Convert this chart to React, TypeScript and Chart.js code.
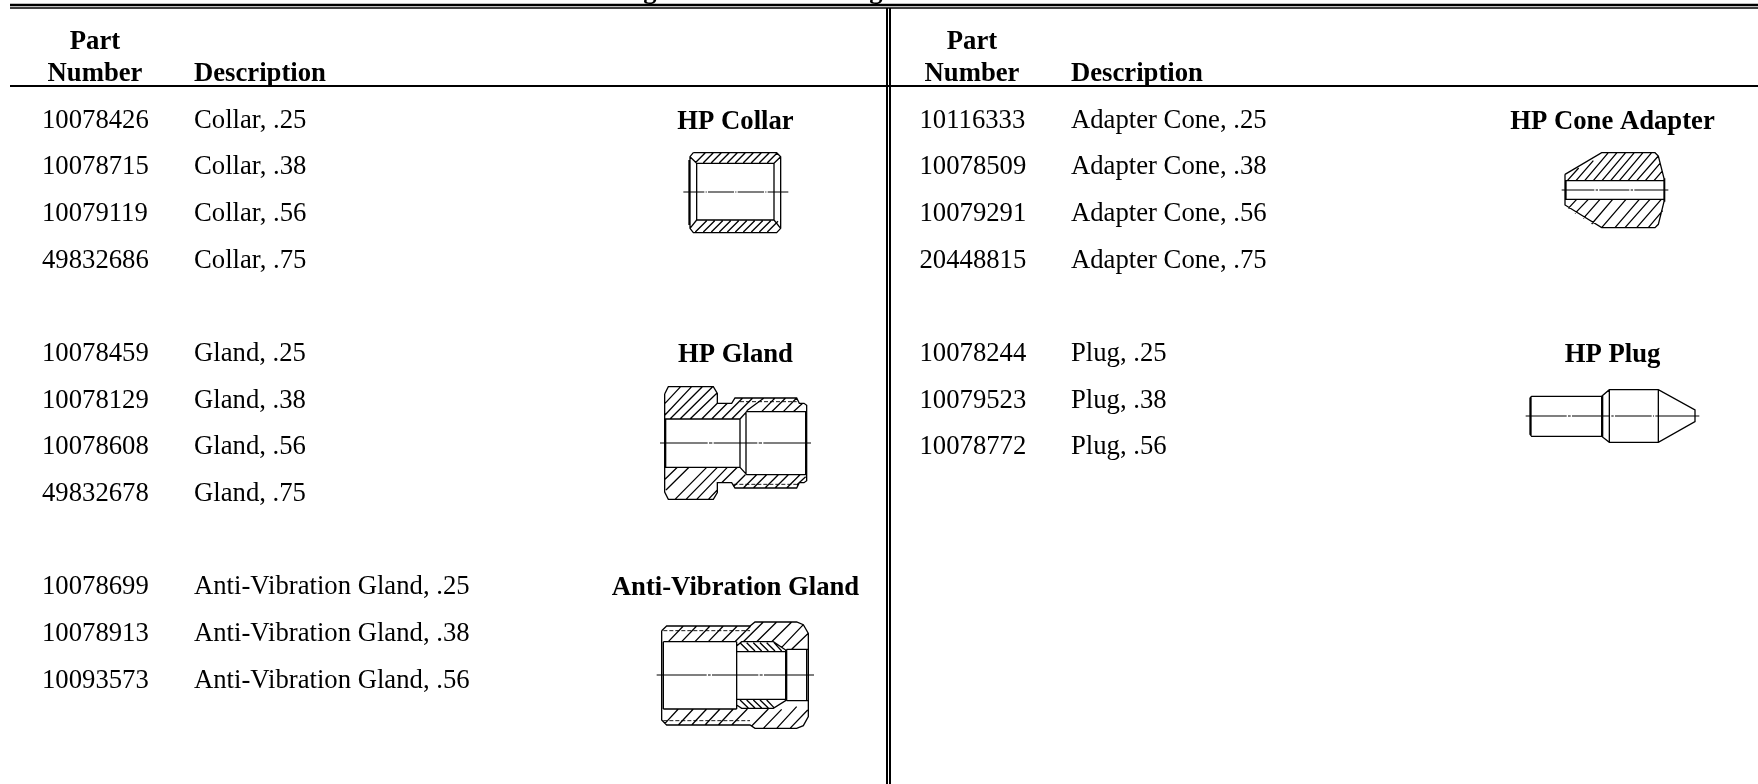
import React, { useEffect, useRef } from "react";
import { Chart, registerables } from "chart.js";
Chart.register(...registerables);

type P = [number, number];
type Drawing = { origin: P; lines: P[][]; centre: P[][]; dashed: P[][] };

const partNumbersLeft = ["10078426", "10078715", "10079119", "49832686", "10078459", "10078129", "10078608", "49832678", "10078699", "10078913", "10093573"];
const descriptionsLeft = ["Collar, .25", "Collar, .38", "Collar, .56", "Collar, .75", "Gland, .25", "Gland, .38", "Gland, .56", "Gland, .75", "Anti-Vibration Gland, .25", "Anti-Vibration Gland, .38", "Anti-Vibration Gland, .56"];
const rowYLeft = [127.7, 174.4, 221, 267.7, 361, 407.7, 454.4, 501, 594.4, 641, 687.7];
const partNumbersRight = ["10116333", "10078509", "10079291", "20448815", "10078244", "10079523", "10078772"];
const descriptionsRight = ["Adapter Cone, .25", "Adapter Cone, .38", "Adapter Cone, .56", "Adapter Cone, .75", "Plug, .25", "Plug, .38", "Plug, .56"];
const rowYRight = [127.7, 174.4, 221, 267.7, 361, 407.7, 454.4];
const groupTitles: [string, number, number][] = [
  ["HP Collar", 735.5, 128.7], ["HP Gland", 735.5, 362], ["Anti-Vibration Gland", 735.5, 595.4],
  ["HP Cone Adapter", 1612.5, 128.7], ["HP Plug", 1612.5, 362],
];
const headers: [string, number, number][] = [
  ["Part", 95, 49], ["Number", 95, 80.7], ["Part", 972, 49], ["Number", 972, 80.7],
];
const headerDescriptions: [string, number, number][] = [
  ["Description", 194, 80.7], ["Description", 1071, 80.7],
];
const clippedTitleLetters: [string, number, number][] = [["g", 650, -2], ["g", 876, -2]];
const rules: [P, P, number][] = [
  [[10, 5], [1758, 5], 2.5], [[10, 8], [1758, 8], 1.5],
  [[10, 86], [1758, 86], 2],
  [[887, 8], [887, 784], 2], [[890, 8], [890, 784], 2],
];

const collar: Drawing = {
  origin: [650, 130],
  lines: [
    [[130, 68], [380, 68], [392, 80], [392, 295], [380, 308], [130, 308], [120, 295], [120, 80], [130, 68]],
    [[140, 100], [372, 100], [372, 270], [140, 270], [140, 100]],
    [[120, 80], [140, 100]], [[392, 80], [372, 100]], [[120, 295], [140, 270]], [[392, 295], [372, 270]],
    [[117, 90], [117, 285]],
    [[136, 98], [166, 68]], [[160, 98], [190, 68]], [[184, 98], [214, 68]], [[208, 98], [238, 68]], [[232, 98], [262, 68]], [[256, 98], [286, 68]], [[280, 98], [310, 68]], [[304, 98], [334, 68]], [[328, 98], [358, 68]], [[352, 98], [382, 68]],
    [[136, 306], [170, 272]], [[160, 306], [194, 272]], [[184, 306], [218, 272]], [[208, 306], [242, 272]], [[232, 306], [266, 272]], [[256, 306], [290, 272]], [[280, 306], [314, 272]], [[304, 306], [338, 272]], [[328, 306], [362, 272]], [[352, 306], [384, 274]],
  ],
  centre: [[[100, 186], [163, 186]], [[167, 186], [170, 186]], [[174, 186], [252, 186]], [[256, 186], [259, 186]], [[263, 186], [342, 186]], [[346, 186], [349, 186]], [[353, 186], [415, 186]]],
  dashed: [],
};

const gland: Drawing = {
  origin: [640, 370],
  lines: [
    [[74, 72], [85, 50], [220, 50], [232, 70], [232, 100], [275, 100], [285, 84], [470, 84], [478, 100], [492, 100], [500, 106], [500, 332], [492, 338], [478, 338], [470, 354], [285, 354], [275, 338], [232, 338], [232, 368], [220, 388], [85, 388], [74, 366], [74, 72]],
    [[74, 147], [300, 147], [320, 125], [500, 125]],
    [[74, 292], [300, 292], [320, 314], [500, 314]],
    [[300, 147], [300, 292]], [[318, 125], [318, 314]], [[77, 147], [77, 292]], [[497, 125], [497, 314]],
    [[75, 100], [122, 50]], [[75, 135], [155, 50]], [[90, 147], [187, 50]], [[120, 147], [218, 50]], [[150, 147], [232, 68]], [[185, 147], [232, 100]], [[215, 147], [262, 100]], [[245, 147], [308, 84]], [[275, 147], [338, 84]], [[320, 122], [372, 84]], [[365, 125], [405, 84]], [[395, 125], [437, 84]], [[430, 125], [470, 84]], [[460, 125], [488, 100]],
    [[75, 328], [112, 292]], [[78, 360], [147, 292]], [[105, 388], [200, 292]], [[138, 388], [232, 292]], [[170, 388], [262, 292]], [[205, 388], [232, 360]], [[245, 338], [292, 292]], [[280, 350], [316, 314]], [[310, 354], [350, 314]], [[340, 354], [380, 314]], [[375, 354], [415, 314]], [[405, 354], [445, 314]], [[440, 354], [480, 314]], [[470, 345], [497, 320]],
  ],
  centre: [[[60, 219], [203, 219]], [[207, 219], [217, 219]], [[221, 219], [352, 219]], [[356, 219], [366, 219]], [[370, 219], [513, 219]]],
  dashed: [[[300, 95], [470, 95]], [[280, 343], [470, 343]]],
};

const antiVibrationGland: Drawing = {
  origin: [640, 610],
  lines: [
    [[65, 62], [80, 48], [330, 48], [345, 36], [470, 36], [490, 44], [505, 70], [505, 320], [490, 347], [470, 355], [345, 355], [330, 345], [80, 345], [65, 330], [65, 62]],
    [[70, 95], [290, 95]], [[70, 297], [290, 297]], [[70, 95], [70, 297]], [[290, 95], [290, 297]],
    [[290, 108], [305, 95], [400, 95], [437, 120], [437, 272], [400, 295], [305, 295], [290, 285]],
    [[290, 125], [437, 125]], [[290, 268], [437, 268]],
    [[440, 118], [505, 118]], [[440, 272], [505, 272]], [[440, 118], [440, 272]], [[500, 118], [500, 272]],
    [[85, 95], [130, 48]], [[125, 95], [170, 48]], [[165, 95], [210, 48]], [[205, 95], [250, 48]], [[245, 95], [292, 48]], [[285, 95], [332, 48]], [[310, 95], [370, 36]], [[350, 95], [410, 36]], [[395, 95], [455, 36]], [[425, 112], [490, 44]], [[455, 118], [505, 70]],
    [[300, 98], [325, 123]], [[320, 98], [345, 123]], [[340, 98], [365, 123]], [[360, 98], [385, 123]], [[380, 98], [405, 123]], [[402, 98], [425, 123]],
    [[300, 270], [325, 294]], [[320, 270], [345, 294]], [[340, 270], [365, 294]], [[360, 270], [385, 294]], [[380, 270], [402, 293]],
    [[75, 340], [115, 297]], [[115, 345], [160, 297]], [[155, 345], [200, 297]], [[195, 345], [240, 297]], [[235, 345], [280, 297]], [[275, 345], [322, 297]], [[335, 348], [385, 297]], [[370, 355], [425, 298]], [[410, 355], [470, 290]], [[450, 355], [503, 300]],
  ],
  centre: [[[50, 195], [200, 195]], [[204, 195], [212, 195]], [[216, 195], [355, 195]], [[359, 195], [368, 195]], [[372, 195], [522, 195]]],
  dashed: [[[70, 62], [330, 62]], [[70, 332], [330, 332]]],
};

const coneAdapter: Drawing = {
  origin: [1540, 140],
  lines: [
    [[75, 103], [185, 38], [345, 38], [355, 48], [372, 115], [372, 185], [355, 253], [345, 263], [185, 263], [75, 195], [75, 103]],
    [[75, 122], [375, 122]], [[75, 178], [375, 178]], [[78, 122], [78, 178]], [[374, 115], [374, 185]],
    [[82, 122], [116, 84]], [[108, 122], [160, 62]], [[134, 122], [205, 38]], [[160, 122], [231, 38]], [[186, 122], [257, 38]], [[212, 122], [283, 38]], [[238, 122], [309, 38]], [[264, 122], [335, 38]], [[290, 122], [355, 48]], [[316, 122], [360, 70]], [[342, 122], [368, 92]],
    [[85, 205], [110, 178]], [[105, 220], [145, 178]], [[130, 235], [180, 178]], [[155, 252], [218, 178]], [[185, 263], [258, 178]], [[225, 263], [298, 178]], [[255, 263], [330, 178]], [[290, 263], [364, 178]], [[325, 263], [368, 212]],
  ],
  centre: [[[65, 150], [163, 150]], [[167, 150], [174, 150]], [[178, 150], [268, 150]], [[272, 150], [279, 150]], [[283, 150], [385, 150]]],
  dashed: [],
};

const plug: Drawing = {
  origin: [1510, 375],
  lines: [
    [[60, 68], [65, 64], [275, 64], [298, 44], [445, 44], [555, 105], [555, 140], [445, 202], [298, 202], [275, 184], [65, 184], [60, 178], [60, 68]],
    [[275, 64], [275, 184]], [[298, 44], [298, 202]], [[445, 44], [445, 202]], [[278, 62], [278, 186]], [[63, 66], [63, 182]],
  ],
  centre: [[[47, 123], [170, 123]], [[174, 123], [182, 123]], [[186, 123], [300, 123]], [[304, 123], [311, 123]], [[315, 123], [425, 123]], [[429, 123], [432, 123]], [[436, 123], [568, 123]]],
  dashed: [],
};

const drawings = [collar, gland, antiVibrationGland, coneAdapter, plug];

function toData(d: Drawing, segs: P[][]) {
  const out: ({ x: number; y: number } | { x: number; y: null })[] = [];
  for (const s of segs) {
    for (const [x, y] of s) out.push({ x: d.origin[0] + x / 3, y: d.origin[1] + y / 3 });
    out.push({ x: d.origin[0], y: null });
  }
  return out;
}

export default function App() {
  const ref = useRef<HTMLCanvasElement>(null);
  useEffect(() => {
    document.body.style.margin = "0";
    const line = (data: any[], borderWidth: number, dash: number[] = []) => ({
      type: "line" as const, data, showLine: true, spanGaps: false, pointRadius: 0,
      borderColor: "#000", backgroundColor: "#000", borderWidth, borderDash: dash, tension: 0,
      borderCapStyle: "butt" as const,
    });
    const datasets: any[] = [];
    for (const [a, b, w] of rules) datasets.push(line([{ x: a[0], y: a[1] }, { x: b[0], y: b[1] }], w));
    for (const d of drawings) {
      datasets.push(line(toData(d, d.lines), 1.3));
      datasets.push(line(toData(d, d.centre), 1.2));
      if (d.dashed.length) datasets.push(line(toData(d, d.dashed), 0.9, [4, 2]));
    }
    const textPlugin = {
      id: "tableText",
      afterDatasetsDraw(chart: any) {
        const { ctx, scales } = chart;
        const px = (v: number) => scales.x.getPixelForValue(v);
        const py = (v: number) => scales.y.getPixelForValue(v);
        ctx.save();
        ctx.fillStyle = "#000";
        ctx.textBaseline = "alphabetic";
        ctx.textAlign = "left";
        ctx.font = "26.7px 'Liberation Serif'";
        partNumbersLeft.forEach((t, i) => ctx.fillText(t, px(42), py(rowYLeft[i])));
        descriptionsLeft.forEach((t, i) => ctx.fillText(t, px(194), py(rowYLeft[i])));
        partNumbersRight.forEach((t, i) => ctx.fillText(t, px(919.5), py(rowYRight[i])));
        descriptionsRight.forEach((t, i) => ctx.fillText(t, px(1071), py(rowYRight[i])));
        ctx.font = "bold 26.7px 'Liberation Serif'";
        headerDescriptions.forEach(([t, x, y]) => ctx.fillText(t, px(x), py(y)));
        ctx.textAlign = "center";
        headers.forEach(([t, x, y]) => ctx.fillText(t, px(x), py(y)));
        groupTitles.forEach(([t, x, y]) => ctx.fillText(t, px(x), py(y)));
        clippedTitleLetters.forEach(([t, x, y]) => ctx.fillText(t, px(x), py(y)));
        ctx.restore();
      },
    };
    const chart = new Chart(ref.current!, {
      type: "scatter",
      data: { datasets },
      plugins: [textPlugin],
      options: {
        animation: false, responsive: false,
        layout: { padding: 0 },
        plugins: { legend: { display: false }, tooltip: { enabled: false }, title: { display: false } },
        scales: {
          x: { type: "linear", min: 0, max: 1758, display: false },
          y: { type: "linear", min: 0, max: 784, reverse: true, display: false },
        },
      },
    });
    return () => chart.destroy();
  }, []);
  return <canvas ref={ref} width={1758} height={784} style={{ display: "block", position: "absolute", left: 0, top: 0 }} />;
}
